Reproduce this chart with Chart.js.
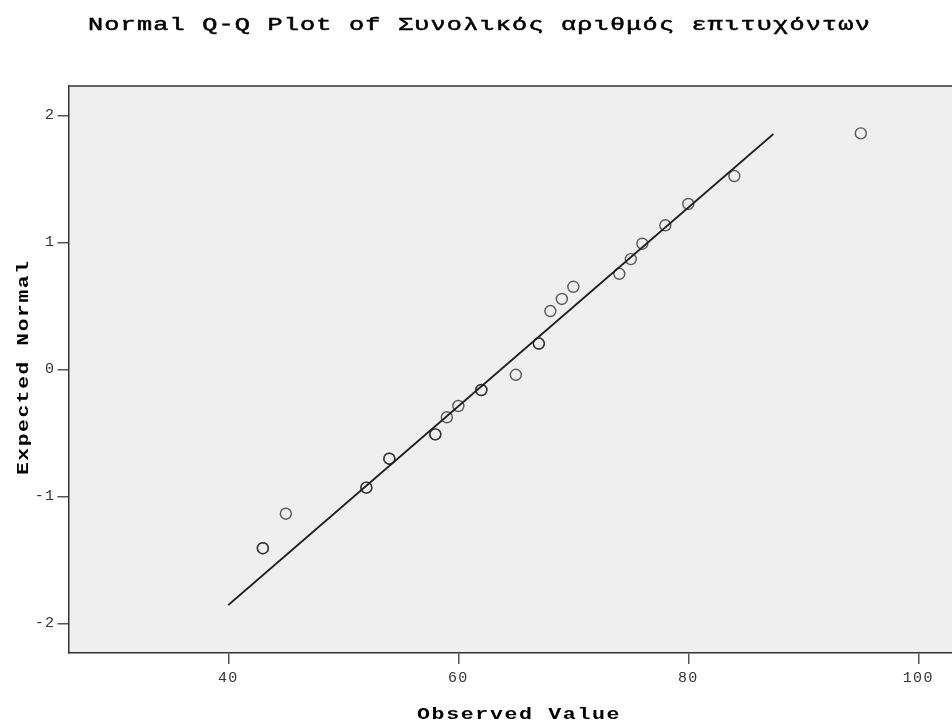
<!DOCTYPE html>
<html>
<head>
<meta charset="utf-8">
<script src="https://cdn.jsdelivr.net/npm/chart.js@4.4.1/dist/chart.umd.min.js"></script>
<style>
  html, body { margin: 0; padding: 0; background: #ffffff; overflow: hidden; }
  canvas { display: block; }
</style>
</head>
<body>
<canvas id="qq" width="952" height="722"></canvas>
<script>
// Texts
const chartTitle = 'Normal Q-Q Plot of Συνολικός αριθμός επιτυχόντων';
const xTitle = 'Observed Value';
const yTitle = 'Expected Normal';

// Observed scores (tied values appear more than once) and their expected normal quantiles
const observed = [43, 43, 45, 52, 52, 54, 54, 58, 58, 59, 60, 62, 62, 65, 67, 67, 68, 69, 70, 74, 75, 76, 78, 80, 84, 95];
const expectedNormal = [-1.409, -1.409, -1.137, -0.932, -0.932, -0.704, -0.704, -0.512, -0.512, -0.378, -0.289, -0.163, -0.163, -0.043, 0.203, 0.203, 0.459, 0.554, 0.650, 0.752, 0.868, 0.989, 1.134, 1.302, 1.522, 1.858];

// Reference line end points
const refLineX = [40, 87.4];
const refLineY = [-1.856, 1.853];

// Tick values
const xTicks = [40, 60, 80, 100];
const yTicks = [-2, -1, 0, 1, 2];

const MONO = "'Liberation Mono', 'DejaVu Sans Mono', monospace";

const points = observed.map((v, i) => ({ x: v, y: expectedNormal[i] }));
const refLine = refLineX.map((v, i) => ({ x: v, y: refLineY[i] }));

// Text drawn with a horizontal stretch (wide monospace look)
function wideText(ctx, text, x, y, sx, angle, weight) {
  ctx.save();
  ctx.translate(x, y);
  if (angle) ctx.rotate(angle);
  ctx.scale(sx, 1);
  ctx.fillText(text, 0, 0);
  if (weight) {
    ctx.lineWidth = weight;
    ctx.strokeStyle = ctx.fillStyle;
    ctx.strokeText(text, 0, 0);
  }
  ctx.restore();
}

// Plot frame, background and titles
const framePlugin = {
  id: 'frame',
  beforeDraw(chart) {
    const { ctx, chartArea: a } = chart;
    ctx.save();
    ctx.fillStyle = '#efefef';
    ctx.fillRect(a.left, a.top, a.right - a.left, a.bottom - a.top);
    ctx.restore();
    ctx.letterSpacing = '1.4px';
  },
  afterDraw(chart) {
    const { ctx, chartArea: a } = chart;
    ctx.save();
    ctx.strokeStyle = '#333333';
    ctx.lineWidth = 1.5;
    ctx.beginPath();
    ctx.moveTo(a.left, a.top);
    ctx.lineTo(a.right, a.top);
    ctx.stroke();

    ctx.fillStyle = '#000000';
    ctx.textAlign = 'left';
    ctx.textBaseline = 'alphabetic';
    ctx.font = '18px ' + MONO;
    ctx.letterSpacing = '0.85px';
    wideText(ctx, chartTitle, 88, 30, 1.4, 0, 0.5);

    ctx.font = 'bold 16px ' + MONO;
    ctx.letterSpacing = '1.2px';
    wideText(ctx, xTitle, 417, 719, 1.35, 0, 0);
    wideText(ctx, yTitle, 28, 475, 1.33, -Math.PI / 2, 0);
    ctx.restore();
  }
};

new Chart(document.getElementById('qq'), {
  type: 'scatter',
  data: {
    datasets: [
      {
        label: 'Observed',
        data: points,
        showLine: false,
        pointStyle: 'circle',
        pointRadius: 5.5,
        pointBorderWidth: 1.4,
        pointBorderColor: 'rgba(30,30,30,0.72)',
        pointBackgroundColor: 'rgba(0,0,0,0)'
      },
      {
        type: 'line',
        label: 'Reference',
        data: refLine,
        borderColor: '#1e1e1e',
        borderWidth: 1.7,
        pointRadius: 0,
        fill: false
      }
    ]
  },
  options: {
    responsive: false,
    animation: false,
    devicePixelRatio: 1,
    events: [],
    layout: { autoPadding: false, padding: { top: 86, left: 0, right: 0, bottom: 0 } },
    plugins: {
      legend: { display: false },
      tooltip: { enabled: false },
      title: { display: false }
    },
    scales: {
      x: {
        type: 'linear',
        position: 'bottom',
        min: 26.1,
        max: 102.93,
        afterBuildTicks: s => { s.ticks = xTicks.map(v => ({ value: v })); },
        afterFit: s => { s.height = 69; s.paddingLeft = 0; s.paddingRight = 0; },
        grid: { drawOnChartArea: false, drawTicks: true, tickLength: 11, color: '#555555', lineWidth: 1.5 },
        border: { display: true, color: '#333333', width: 1.5 },
        ticks: { color: '#333333', font: { family: MONO, size: 15 }, padding: 5, maxRotation: 0, callback: v => String(v) },
        title: { display: false }
      },
      y: {
        type: 'linear',
        position: 'left',
        min: -2.234,
        max: 2.231,
        afterBuildTicks: s => { s.ticks = yTicks.map(v => ({ value: v })); },
        afterFit: s => { s.width = 68.5; s.paddingTop = 0; s.paddingBottom = 0; },
        grid: { drawOnChartArea: false, drawTicks: true, tickLength: 11, color: '#555555', lineWidth: 1.5 },
        border: { display: true, color: '#333333', width: 1.5 },
        ticks: { color: '#333333', font: { family: MONO, size: 15 }, padding: 2, callback: v => String(v) },
        title: { display: false }
      }
    }
  },
  plugins: [framePlugin]
});
</script>
</body>
</html>
